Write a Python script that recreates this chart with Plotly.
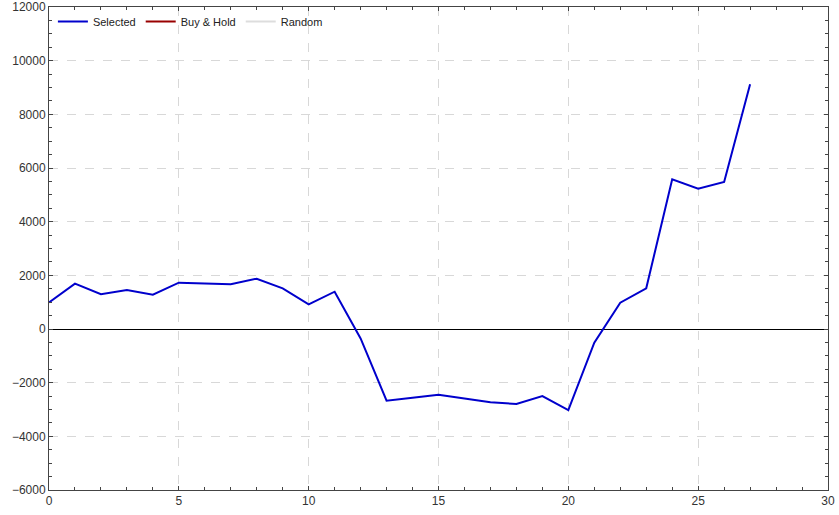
import plotly.graph_objects as go

periods = list(range(28))
selected = [990, 1690, 1300, 1450, 1280, 1725, 1700, 1665, 1875, 1515, 920, 1390,
            -350, -2670, -2560, -2450, -2590, -2730, -2795, -2500, -3020, -510,
            980, 1515, 5580, 5230, 5480, 9120]
buy_hold = [None]
random_vals = [None]

fig = go.Figure()
fig.add_trace(go.Scatter(x=periods, y=selected, mode="lines", name="Selected",
                         line=dict(color="#0000cc", width=2)))
fig.add_trace(go.Scatter(x=periods[:len(buy_hold)], y=buy_hold, mode="lines", name="Buy & Hold",
                         line=dict(color="#990000", width=2)))
fig.add_trace(go.Scatter(x=periods[:len(random_vals)], y=random_vals, mode="lines", name="Random",
                         line=dict(color="#dddddd", width=2)))

axis_common = dict(
    showline=True, linecolor="#444444", linewidth=1, mirror="ticks",
    ticks="inside", ticklen=4, tickcolor="#444444",
    showgrid=True, gridcolor="#d8d8d8", griddash="dash", gridwidth=1,
    automargin=False, tickformat="d",
    tickfont=dict(family="Arial, Liberation Sans, sans-serif", size=12, color="#333333"),
)

fig.update_xaxes(range=[0, 30], dtick=5, tick0=0, zeroline=False,
                 minor=dict(dtick=1, ticks="inside", ticklen=3, tickcolor="#444444", showgrid=False),
                 **axis_common)
fig.update_yaxes(range=[-6000, 12000], dtick=2000, tick0=0,
                 zeroline=True, zerolinecolor="#000000", zerolinewidth=1,
                 minor=dict(dtick=500, ticks="inside", ticklen=3, tickcolor="#444444", showgrid=False),
                 **axis_common)

fig.update_layout(
    width=839, height=515,
    margin=dict(l=49, r=11, t=7, b=25),
    plot_bgcolor="white", paper_bgcolor="white",
    showlegend=True,
    legend=dict(orientation="h", x=0.005, y=1.0, xanchor="left", yanchor="top",
                bgcolor="rgba(0,0,0,0)",
                font=dict(family="Arial, Liberation Sans, sans-serif", size=11, color="#222222")),
)

fig.write_html("out.html", config={"displayModeBar": False},
               post_script="document.body.style.margin='0';document.body.style.overflow='hidden';")
